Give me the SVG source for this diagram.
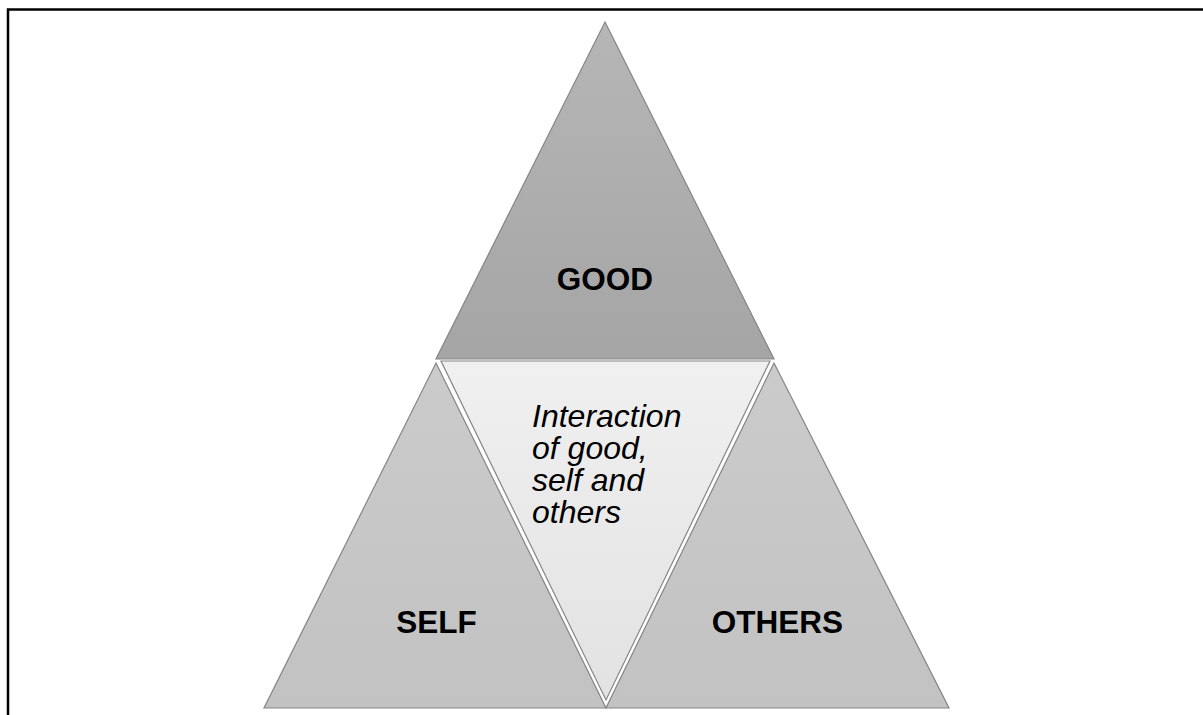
<svg xmlns="http://www.w3.org/2000/svg" width="1203" height="715" viewBox="0 0 1203 715">
  <defs>
    <linearGradient id="gTop" x1="0" y1="0" x2="0" y2="1">
      <stop offset="0" stop-color="#b6b6b6"/>
      <stop offset="1" stop-color="#a5a5a5"/>
    </linearGradient>
    <linearGradient id="gSide" x1="0" y1="0" x2="0" y2="1">
      <stop offset="0" stop-color="#cbcbcb"/>
      <stop offset="1" stop-color="#c2c2c2"/>
    </linearGradient>
    <linearGradient id="gMid" x1="0" y1="0" x2="0" y2="1">
      <stop offset="0" stop-color="#f0f0f0"/>
      <stop offset="1" stop-color="#e2e2e2"/>
    </linearGradient>
  </defs>
  <style>
    .tri { stroke: #858585; stroke-width: 1.2; stroke-linejoin: miter; }
    .lbl { font-family: "Liberation Sans", Arial, sans-serif; font-size: 31.5px; font-weight: bold; fill: #000; text-anchor: middle; }
    .note { font-family: "Liberation Sans", Arial, sans-serif; font-size: 32px; font-style: italic; fill: #000; }
    .frame { fill: none; stroke: #000; stroke-width: 2.5; }
  </style>

  <rect width="1203" height="715" fill="#fff"/>

  <!-- page frame (open at bottom and right) -->
  <path class="frame" d="M8 715 V9.5 H1203"/>

  <g id="good">
    <polygon class="tri" points="605,22 774,359 436,359" fill="url(#gTop)"/>
    <text class="lbl" x="605" y="290">GOOD</text>
  </g>

  <g id="self">
    <polygon class="tri" points="436,363 606,708 264,708" fill="url(#gSide)"/>
    <text class="lbl" x="436.5" y="633">SELF</text>
  </g>

  <g id="others">
    <polygon class="tri" points="774,363 949,708 606,708" fill="url(#gSide)"/>
    <text class="lbl" x="777.5" y="633">OTHERS</text>
  </g>

  <g id="interaction">
    <polygon class="tri" points="441,361 770,361 606,700" fill="url(#gMid)"/>
    <!-- four-line italic caption, tight 32px leading -->
    <text class="note" x="532" y="427">Interaction<tspan x="532" dy="32">of good,</tspan><tspan x="532" dy="32">self and</tspan><tspan x="532" dy="32">others</tspan></text>
  </g>

  <g id="connectors"/>
</svg>
